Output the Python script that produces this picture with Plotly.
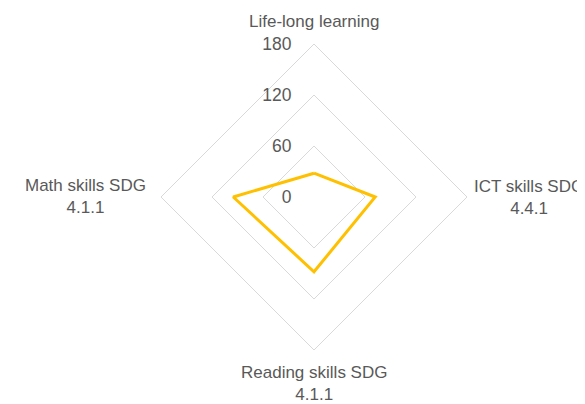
import plotly.graph_objects as go

categories = ["Life-long learning", "ICT skills SDG", "Reading skills SDG", "Math skills SDG"]
category_labels = ["Life-long learning", "ICT skills SDG<br>4.4.1", "Reading skills SDG<br>4.1.1", "Math skills SDG<br>4.1.1"]
values = [28, 72, 88, 95]
radial_ticks = [0, 60, 120, 180]

GRID = "#D9D9D9"
TEXT = "#595959"

# the page body has an 8px margin, so the figure is drawn 8px smaller
W, H = 577, 396
fig = go.Figure()
fig.add_trace(go.Scatterpolar(
    r=values + values[:1],
    theta=categories + categories[:1],
    mode="lines",
    line=dict(color="#FFC000", width=3),
    showlegend=False,
    hoverinfo="skip",
))

fig.update_layout(
    width=W, height=H,
    margin=dict(l=153, r=118, t=36, b=54),
    paper_bgcolor="white",
    plot_bgcolor="white",
    font=dict(family="Liberation Sans", size=17, color=TEXT),
    polar=dict(
        bgcolor="white",
        gridshape="linear",
        domain=dict(x=[0, 1], y=[0, 1]),
        radialaxis=dict(
            range=[0, 180],
            tickvals=radial_ticks,
            angle=90,
            side="counterclockwise",
            tickangle=90,
            showline=False,
            ticks="outside",
            ticklen=16,
            tickcolor="rgba(0,0,0,0)",
            gridcolor=GRID,
            gridwidth=1,
            tickfont=dict(size=17.5, color=TEXT),
        ),
        angularaxis=dict(
            rotation=90,
            direction="clockwise",
            showline=True,
            linecolor=GRID,
            linewidth=1,
            showgrid=False,
            ticks="",
            showticklabels=False,
        ),
    ),
)

# category labels (centered multi-line, as in the reference)
label_pos = [
    dict(x=0.5, y=1.072, xanchor="center", yanchor="middle"),
    dict(x=1.016, y=0.498, xanchor="left", yanchor="middle"),
    dict(x=0.5, y=-0.108, xanchor="center", yanchor="middle"),
    dict(x=-0.042, y=0.502, xanchor="right", yanchor="middle"),
]
for text, pos in zip(category_labels, label_pos):
    fig.add_annotation(text=text, xref="paper", yref="paper", showarrow=False,
                       align="center", font=dict(size=17, color=TEXT), **pos)

fig.write_html("out.html")
